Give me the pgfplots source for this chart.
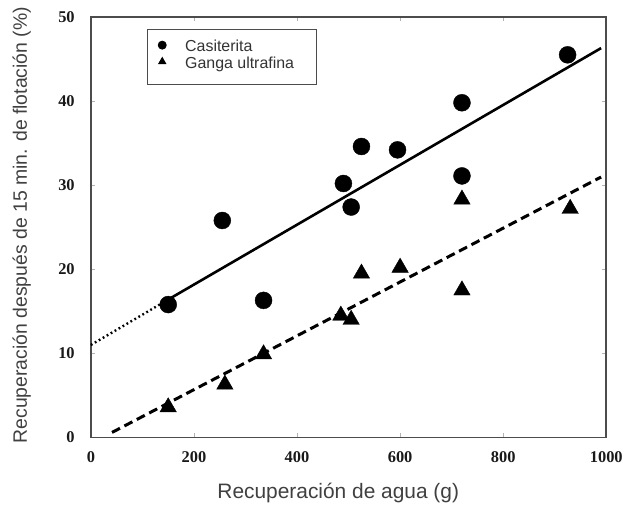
\documentclass[border=0pt]{standalone}
\usepackage{fontspec}
\setmainfont{Liberation Sans}
\newfontfamily\tickfont{Liberation Serif}
\usepackage{pgfplots}
\pgfplotsset{compat=1.18}
\pgfplotstableread{
x y
150 15.8
255 25.8
335 16.3
490 30.2
505 27.4
525 34.6
595 34.2
720 31.1
720 39.8
925 45.5
}\casiterita
\pgfplotstableread{
x y
150 3.6
260 6.3
335 9.9
485 14.5
505 14.0
525 19.5
600 20.2
720 28.3
720 17.5
930 27.2
}\ganga
\begin{document}
\begin{tikzpicture}
\begin{axis}[
  scale only axis, width=516bp, height=421bp,
  xmin=0, xmax=1000, ymin=0, ymax=50,
  xtick={0,200,...,1000}, ytick={0,10,...,50},
  tick align=inside, major tick length=4bp,
  tick style={black!30, line width=0.8bp},
  axis line style={line width=1.8bp, black!70},
  /pgf/number format/assume math mode=true,
  /pgf/number format/1000 sep={},
  tick label style={font=\tickfont\bfseries\fontsize{16.5}{16.5}\selectfont, text=black!90},
  xticklabel style={anchor=center, yshift=-20bp},
  yticklabel style={anchor=east, inner sep=0pt, xshift=-16bp},
  xlabel={Recuperación de agua (g)},
  ylabel={Recuperación después de 15 min. de flotación (\%)},
  xlabel style={at={(axis description cs:0.48,-0.133)}, anchor=center, font=\fontsize{21}{21}\selectfont, text=black!75},
  ylabel style={at={(axis description cs:-0.134,0.505)}, anchor=center, rotate=0, font=\fontsize{19.5}{19.5}\selectfont, text=black!75},
  legend style={at={(axis description cs:0.1085,0.9715)}, anchor=north west,
    draw=black!70, line width=0.9bp, font=\fontsize{16}{16}\selectfont,
    text=black!80, row sep=0pt, column sep=0pt, inner xsep=0bp, inner ysep=7.5bp,
    nodes={inner sep=0pt}},
  legend cell align=left,
  legend image post style={mark size=4bp},
  legend image code/.code={\path[draw=none,fill=none] (0bp,0bp) -- (38bp,0bp); \draw[#1] plot coordinates {(15bp,0bp)};},
  clip=false,
]
\addplot[only marks, mark=*, mark size=8.5bp, black] table {\casiterita};
\addlegendentry{\rule[-7.5bp]{0pt}{22.5bp}Casiterita}
\addplot[only marks, mark=triangle*, mark size=9.5bp, black] table {\ganga};
\addlegendentry{\rule[-7.5bp]{0pt}{22.5bp}Ganga ultrafina}
\addlegendimage{empty legend}
\addlegendentry{\rule{131bp}{0pt}\rule{0pt}{6bp}}
\addplot[black, line width=2.6bp, forget plot] coordinates {(150,16.4) (990,46.3)};
\addplot[black, line width=2.4bp, dash pattern=on 1.8bp off 2.8bp, forget plot] coordinates {(0,11.0) (150,16.4)};
\addplot[black, line width=3bp, dash pattern=on 9bp off 5bp, forget plot] coordinates {(41,0.6) (990,30.97)};
\end{axis}
\path (current axis.south west) ++(-91bp,-70bp) rectangle ++(626bp,508bp);
\end{tikzpicture}
\end{document}
